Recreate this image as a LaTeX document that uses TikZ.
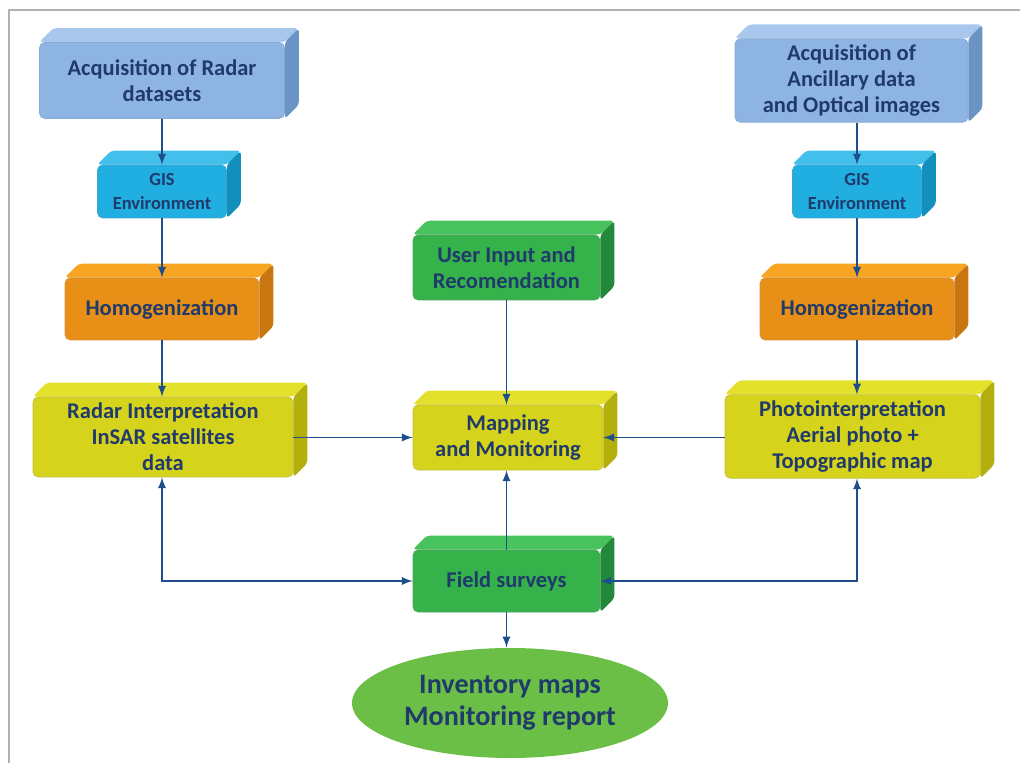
\documentclass[tikz,border=0pt]{standalone}
\usepackage{fontspec}
\setmainfont{Carlito}
\usetikzlibrary{arrows.meta,positioning,shapes,backgrounds}

\definecolor{txtnavy}{HTML}{1F3A6B}
\definecolor{arrblue}{HTML}{1F4E8C}
\definecolor{bluefront}{HTML}{8EB4E3}
\definecolor{bluetop}{HTML}{A9C6EC}
\definecolor{blueside}{HTML}{6A93C6}
\definecolor{cyanfront}{HTML}{20AFE0}
\definecolor{cyantop}{HTML}{42C0EB}
\definecolor{cyanside}{HTML}{138FBD}
\definecolor{orgfront}{HTML}{E88F17}
\definecolor{orgtop}{HTML}{F7A523}
\definecolor{orgside}{HTML}{C97510}
\definecolor{ylwfront}{HTML}{D6D31C}
\definecolor{ylwtop}{HTML}{E3E12C}
\definecolor{ylwside}{HTML}{B3AF0C}
\definecolor{grnfront}{HTML}{35B24A}
\definecolor{grntop}{HTML}{48C25C}
\definecolor{grnside}{HTML}{23893A}
\definecolor{ellgreen}{HTML}{6CBF46}

% top and right faces of a box node: name, top colour, side colour
\newcommand{\boxfaces}[3]{%
  \begin{scope}[on background layer]
    \fill[#2, rounded corners=2pt] (#1.north west) -- ++(0.28,0.28) -- ([shift={(0.28,0.28)}]#1.north east) -- (#1.north east) -- cycle;
    \fill[#3, rounded corners=2pt] (#1.north east) -- ++(0.28,0.28) -- ([shift={(0.28,0.28)}]#1.south east) -- (#1.south east) -- cycle;
  \end{scope}}

\begin{document}
\begin{tikzpicture}[thick]

	\tikzstyle{base}=[rectangle, rounded corners=3pt, thin, text=txtnavy, align=center, font=\bfseries\fontsize{12.8}{14.8}\selectfont]
	\tikzstyle{acqbox}=[base, fill=bluefront, draw=blueside!80]
	\tikzstyle{gisbox}=[base, fill=cyanfront, draw=cyanside!80, minimum width=2.58cm, minimum height=1.06cm, font=\bfseries\fontsize{10.5}{13.5}\selectfont]
	\tikzstyle{homobox}=[base, fill=orgfront, draw=orgside!80, minimum width=3.88cm, minimum height=1.24cm]
	\tikzstyle{intbox}=[base, fill=ylwfront, draw=ylwside!80]
	\tikzstyle{grnbox}=[base, fill=grnfront, draw=grnside!80, minimum width=3.74cm]
	\tikzstyle{outell}=[ellipse, fill=ellgreen, text=txtnavy, align=center, minimum width=6.2cm, minimum height=2.2cm, font=\bfseries\fontsize{16}{18.2}\selectfont]
	\tikzstyle{link}=[-latex, line width=1.1pt, arrblue]

	\useasboundingbox (0,0) rectangle (20.4,15.26);
	\draw[gray!60, line width=1pt] (0.18,0) -- (0.18,15.06) -- (20.4,15.06);

	% left column
	\node[acqbox, minimum width=4.9cm, minimum height=1.52cm] (radacq) at (3.24,13.65) {Acquisition of Radar\\datasets};
	\node[gisbox] (gisl) at (3.24,11.43) {GIS\\Environment};
	\node[homobox] (homl) at (3.24,9.08) {Homogenization};
	\node[intbox, minimum width=5.2cm, minimum height=1.6cm] (radint) at (3.26,6.52) {Radar Interpretation\\InSAR satellites\\data};

	% right column
	\node[acqbox, minimum width=4.66cm, minimum height=1.56cm] (ancacq) at (17.03,13.65) {Acquisition of\\Ancillary data\\and Optical images};
	\node[gisbox] (gisr) at (17.14,11.43) {GIS\\Environment};
	\node[homobox] (homr) at (17.14,9.08) {Homogenization};
	\node[intbox, minimum width=5.1cm, minimum height=1.66cm] (photo) at (17.05,6.53) {Photointerpretation\\Aerial photo +\\Topographic map};

	% middle column
	\node[grnbox, minimum height=1.3cm] (user) at (10.13,9.91) {User Input and\\Recomendation};
	\node[intbox, minimum width=3.8cm, minimum height=1.3cm] (map) at (10.16,6.51) {Mapping\\and Monitoring};
	\node[grnbox, minimum height=1.24cm] (field) at (10.13,3.64) {Field surveys};
	\node[outell] (report) at (10.2,1.2) {Inventory maps\\Monitoring report};

	\boxfaces{radacq}{bluetop}{blueside}
	\boxfaces{ancacq}{bluetop}{blueside}
	\boxfaces{gisl}{cyantop}{cyanside}
	\boxfaces{gisr}{cyantop}{cyanside}
	\boxfaces{homl}{orgtop}{orgside}
	\boxfaces{homr}{orgtop}{orgside}
	\boxfaces{radint}{ylwtop}{ylwside}
	\boxfaces{photo}{ylwtop}{ylwside}
	\boxfaces{map}{ylwtop}{ylwside}
	\boxfaces{user}{grntop}{grnside}
	\boxfaces{field}{grntop}{grnside}

	\draw[link] (radacq.south -| gisl) -- (gisl.north);
	\draw[link] (gisl.south) -- (homl.north);
	\draw[link] (homl.south) -- (homl.south |- radint.north);
	\draw[link] (ancacq.south -| gisr) -- (gisr.north);
	\draw[link] (gisr.south) -- (homr.north);
	\draw[link] (homr.south) -- (homr.south |- photo.north);
	\draw[link] (radint.east |- map.west) -- (map.west);
	\draw[link] (photo.west |- map.east) -- (map.east);
	\draw[link] (user.south) -- (user.south |- map.north);
	\draw[link] (field.north) -- (field.north |- map.south);
	\draw[link] (field.south) -- (field.south |- report.north);
	\draw[link, latex-latex] (radint.south -| gisl) |- (field.west);
	\draw[link, latex-latex] (photo.south -| gisr) |- (field.east);

\end{tikzpicture}
\end{document}
